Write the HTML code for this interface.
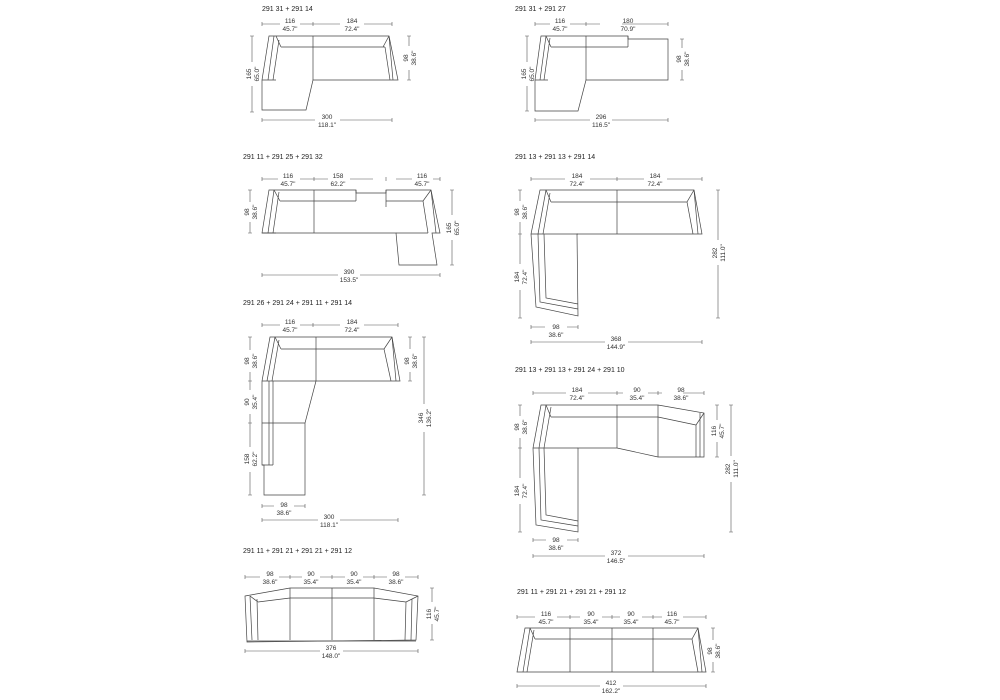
<!DOCTYPE html>
<html><head><meta charset="utf-8"><style>
html,body{margin:0;padding:0;background:#fff;}
svg{display:block;}
text{font-family:"Liberation Sans",sans-serif;font-size:6.5px;fill:#333;text-anchor:middle;}
text.t{font-size:7px;text-anchor:start;fill:#222;}
.s{fill:none;stroke:#444;stroke-width:0.7;}
.d{fill:none;stroke:#555;stroke-width:0.6;}
</style></head><body>
<svg width="1000" height="700" viewBox="0 0 1000 700" xmlns="http://www.w3.org/2000/svg">

<!-- ===== Diagram 1 ===== -->
<text class="t" x="262" y="11">291 31 + 291 14</text>
<path class="d" d="M262,24H280M300,24H340M364,24H392M262,22V26M313,22V26M392,22V26"/>
<text x="290" y="23">116</text><text x="290" y="31">45.7"</text>
<text x="352" y="23">184</text><text x="352" y="31">72.4"</text>
<path class="s" d="M269,36L389,36L398,80L313,80L306,110L262,110L262,80Z"/>
<path class="s" d="M274,36L268,80M279,40L273,80M281,47L385,47M385,47L390,80M389,36L393,80M276,36L281,47M389,36L383,47M313,36V80M262,80H276"/>
<path class="d" d="M252,36V62M252,86V112M250,36H254M250,112H254"/>
<g transform="translate(252,74) rotate(-90)"><text y="-1">165</text><text y="7">65.0"</text></g>
<path class="d" d="M409,36V46M409,70V80M407,36H411M407,80H411"/>
<g transform="translate(409,58) rotate(-90)"><text y="-1">98</text><text y="7">38.6"</text></g>
<path class="d" d="M262,120H315M340,120H392M262,118V122M392,118V122"/>
<text x="327" y="119">300</text><text x="327" y="127">118.1"</text>

<!-- ===== Diagram 2 ===== -->
<text class="t" x="515" y="11">291 31 + 291 27</text>
<path class="d" d="M535,24H550M570,24H600M622,24H668M535,22V26M586,22V26M668,22V26"/>
<text x="560" y="23">116</text><text x="560" y="31">45.7"</text>
<text x="628" y="23">180</text><text x="628" y="31">70.9"</text>
<path class="s" d="M541,36L628,36L628,39L668,39L668,80L586,80L578,111L535,111L535,80Z"/>
<path class="s" d="M546,36L540,80M550,38L544,80M551,47L628,47M628,36V47M546,36L551,47M586,36V80M535,80H548"/>
<path class="d" d="M527,36V62M527,86V111M525,36H529M525,111H529"/>
<g transform="translate(527,74) rotate(-90)"><text y="-1">165</text><text y="7">65.0"</text></g>
<path class="d" d="M682,39V48M682,70V80M680,39H684M680,80H684"/>
<g transform="translate(682,59) rotate(-90)"><text y="-1">98</text><text y="7">38.6"</text></g>
<path class="d" d="M535,120H590M612,120H668M535,118V122M668,118V122"/>
<text x="601" y="119">296</text><text x="601" y="127">116.5"</text>

<!-- ===== Diagram 3 ===== -->
<text class="t" x="243" y="159">291 11 + 291 25 + 291 32</text>
<path class="d" d="M262,179H278M300,179H328M350,179H373M396,179H412M433,179H440M262,177V181M314,177V181M386,177V181M440,177V181"/>
<text x="288" y="178">116</text><text x="288" y="186">45.7"</text>
<text x="338" y="178">158</text><text x="338" y="186">62.2"</text>
<text x="422" y="178">116</text><text x="422" y="186">45.7"</text>
<path class="s" d="M269,190L356,190L356,193L386,193L386,190L431,190L440,233L432,233L437,265L399,265L396,233L262,233Z"/>
<path class="s" d="M274,190L268,233M279,192L273,233M280,201L356,201M356,190V201M274,190L280,201M314,190V233M386,190V207M386,201L423,201L428,233M431,190L423,201M431,190L436,233M262,233H276M396,233H428"/>
<path class="d" d="M250,190V202M250,222V233M248,190H252M248,233H252"/>
<g transform="translate(250,212) rotate(-90)"><text y="-1">98</text><text y="7">38.6"</text></g>
<path class="d" d="M452,190V215M452,240V265M450,190H454M450,265H454"/>
<g transform="translate(452,228) rotate(-90)"><text y="-1">165</text><text y="7">65.0"</text></g>
<path class="d" d="M262,275H338M360,275H440M262,273V277M440,273V277"/>
<text x="349" y="274">390</text><text x="349" y="282">153.5"</text>

<!-- ===== Diagram 4 ===== -->
<text class="t" x="515" y="159">291 13 + 291 13 + 291 14</text>
<path class="d" d="M531,179H565M590,179H644M667,179H702M531,177V181M617,177V181M702,177V181"/>
<text x="577" y="178">184</text><text x="577" y="186">72.4"</text>
<text x="655" y="178">184</text><text x="655" y="186">72.4"</text>
<path class="s" d="M540,190L694,190L702,234L577,234L578,316L536,307L531,234Z"/>
<path class="s" d="M546,190L538,234M550,193L543,234M551,202L687,202M546,190L551,202M694,190L687,202L693,234M694,190L698,234M617,190V234M531,234H578M538,234L540,302L578,309M544,234L546,298L578,304"/>
<path class="d" d="M520,190V201M520,222V234M518,190H522M518,234H522"/>
<g transform="translate(520,212) rotate(-90)"><text y="-1">98</text><text y="7">38.6"</text></g>
<path class="d" d="M520,234V264M520,290V318M518,318H522"/>
<g transform="translate(520,277) rotate(-90)"><text y="-1">184</text><text y="7">72.4"</text></g>
<path class="d" d="M718,190V240M718,265V318M716,190H720M716,318H720"/>
<g transform="translate(718,253) rotate(-90)"><text y="-1">282</text><text y="7">111.0"</text></g>
<path class="d" d="M531,327H545M567,327H578M531,325V329M578,325V329"/>
<text x="556" y="329">98</text><text x="556" y="337">38.6"</text>
<path class="d" d="M531,342H605M628,342H702M531,340V344M702,340V344"/>
<text x="616" y="341">368</text><text x="616" y="349">144.9"</text>

<!-- ===== Diagram 5 ===== -->
<text class="t" x="243" y="305">291 26 + 291 24 + 291 11 + 291 14</text>
<path class="d" d="M262,325H280M300,325H340M364,325H398M262,323V327M313,323V327M398,323V327"/>
<text x="290" y="324">116</text><text x="290" y="332">45.7"</text>
<text x="352" y="324">184</text><text x="352" y="332">72.4"</text>
<path class="s" d="M270,337L392,337L400,381L316,381L305,423L305,495L264,495L264,465L262,465L262,381Z"/>
<path class="s" d="M275,337L267,381M279,340L272,381M281,349L384,349M275,337L281,349M392,337L384,349L391,381M392,337L396,381M316,337V381M262,381H316M273,381V465M262,465H273M262,423H305M269,381V465"/>
<path class="d" d="M250,337V350M250,372V381M248,337H252"/>
<g transform="translate(250,361) rotate(-90)"><text y="-1">98</text><text y="7">38.6"</text></g>
<path class="d" d="M250,381V390M250,414V423M248,381H252M248,423H252"/>
<g transform="translate(250,402) rotate(-90)"><text y="-1">90</text><text y="7">35.4"</text></g>
<path class="d" d="M250,423V447M250,472V495M248,495H252"/>
<g transform="translate(250,459) rotate(-90)"><text y="-1">158</text><text y="7">62.2"</text></g>
<path class="d" d="M410,337V349M410,372V381M408,337H412M408,381H412"/>
<g transform="translate(410,361) rotate(-90)"><text y="-1">98</text><text y="7">38.6"</text></g>
<path class="d" d="M424,337V404M424,432V495M422,337H426M422,495H426"/>
<g transform="translate(424,418) rotate(-90)"><text y="-1">346</text><text y="7">136.2"</text></g>
<path class="d" d="M262,506H274M294,506H305M262,504V508M305,504V508"/>
<text x="284" y="507">98</text><text x="284" y="515">38.6"</text>
<path class="d" d="M262,520H318M340,520H398M262,518V522M398,518V522"/>
<text x="329" y="519">300</text><text x="329" y="527">118.1"</text>

<!-- ===== Diagram 6 ===== -->
<text class="t" x="515" y="372">291 13 + 291 13 + 291 24 + 291 10</text>
<path class="d" d="M533,393H566M588,393H623M648,393H662M683,393H704M533,391V395M617,391V395M658,391V395M704,391V395"/>
<text x="577" y="392">184</text><text x="577" y="400">72.4"</text>
<text x="637" y="392">90</text><text x="637" y="400">35.4"</text>
<text x="681" y="392">98</text><text x="681" y="400">38.6"</text>
<path class="s" d="M541,405L658,405L704,413L704,457L658,457L617,448L578,448L578,532L536,525L533,448Z"/>
<path class="s" d="M546,405L539,448M551,407L544,448M551,417L658,417L696,425M546,405L551,417M704,413L696,425L696,457M700,413V457M617,405V448M658,405V457M533,448H578M539,448L541,520L578,526M544,448L546,515L578,521"/>
<path class="d" d="M520,405V416M520,438V448M518,405H522M518,448H522"/>
<g transform="translate(520,427) rotate(-90)"><text y="-1">98</text><text y="7">38.6"</text></g>
<path class="d" d="M520,448V478M520,504V532M518,532H522"/>
<g transform="translate(520,491) rotate(-90)"><text y="-1">184</text><text y="7">72.4"</text></g>
<path class="d" d="M717,405V420M717,442V457M715,405H719M715,457H719"/>
<g transform="translate(717,431) rotate(-90)"><text y="-1">116</text><text y="7">45.7"</text></g>
<path class="d" d="M731,405V456M731,482V532M729,405H733M729,532H733"/>
<g transform="translate(731,469) rotate(-90)"><text y="-1">282</text><text y="7">111.0"</text></g>
<path class="d" d="M533,540H546M567,540H578M533,538V542M578,538V542"/>
<text x="556" y="542">98</text><text x="556" y="550">38.6"</text>
<path class="d" d="M533,556H605M628,556H704M533,554V558M704,554V558"/>
<text x="616" y="555">372</text><text x="616" y="563">146.5"</text>

<!-- ===== Diagram 7 ===== -->
<text class="t" x="243" y="553">291 11 + 291 21 + 291 21 + 291 12</text>
<path class="d" d="M245,577H260M279,577H302M320,577H345M363,577H387M405,577H418M245,575V579M290,575V579M332,575V579M374,575V579M418,575V579"/>
<text x="270" y="576">98</text><text x="270" y="584">38.6"</text>
<text x="311" y="576">90</text><text x="311" y="584">35.4"</text>
<text x="354" y="576">90</text><text x="354" y="584">35.4"</text>
<text x="396" y="576">98</text><text x="396" y="584">38.6"</text>
<path class="s" d="M245,596L290,588L374,588L418,596L416,640L247,642Z"/>
<path class="s" d="M250,596L252,640M257,599L258,640M258,602L290,598L374,598L406,602M250,596L258,602M418,596L406,602L405,640M412,599L411,640M290,588V640M332,588V640M374,588V640M247,641H416"/>
<path class="d" d="M432,588V602M432,624V640M430,588H434M430,640H434"/>
<g transform="translate(432,614) rotate(-90)"><text y="-1">116</text><text y="7">45.7"</text></g>
<path class="d" d="M245,651H320M343,651H418M245,649V653M418,649V653"/>
<text x="331" y="650">376</text><text x="331" y="658">148.0"</text>

<!-- ===== Diagram 8 ===== -->
<text class="t" x="517" y="594">291 11 + 291 21 + 291 21 + 291 12</text>
<path class="d" d="M517,617H535M557,617H580M602,617H620M642,617H662M683,617H706M517,615V619M570,615V619M612,615V619M653,615V619M706,615V619"/>
<text x="546" y="616">116</text><text x="546" y="624">45.7"</text>
<text x="591" y="616">90</text><text x="591" y="624">35.4"</text>
<text x="631" y="616">90</text><text x="631" y="624">35.4"</text>
<text x="672" y="616">116</text><text x="672" y="624">45.7"</text>
<path class="s" d="M525,628L698,628L706,672L517,672Z"/>
<path class="s" d="M530,628L523,672M534,630L527,672M535,639L692,639M530,628L535,639M698,628L692,639L698,672M698,628L702,672M570,628V672M612,628V672M653,628V672"/>
<path class="d" d="M713,628V640M713,662V672M711,628H715M711,672H715"/>
<g transform="translate(713,651) rotate(-90)"><text y="-1">98</text><text y="7">38.6"</text></g>
<path class="d" d="M517,686H600M623,686H706M517,684V688M706,684V688"/>
<text x="611" y="685">412</text><text x="611" y="693">162.2"</text>

</svg>
</body></html>
